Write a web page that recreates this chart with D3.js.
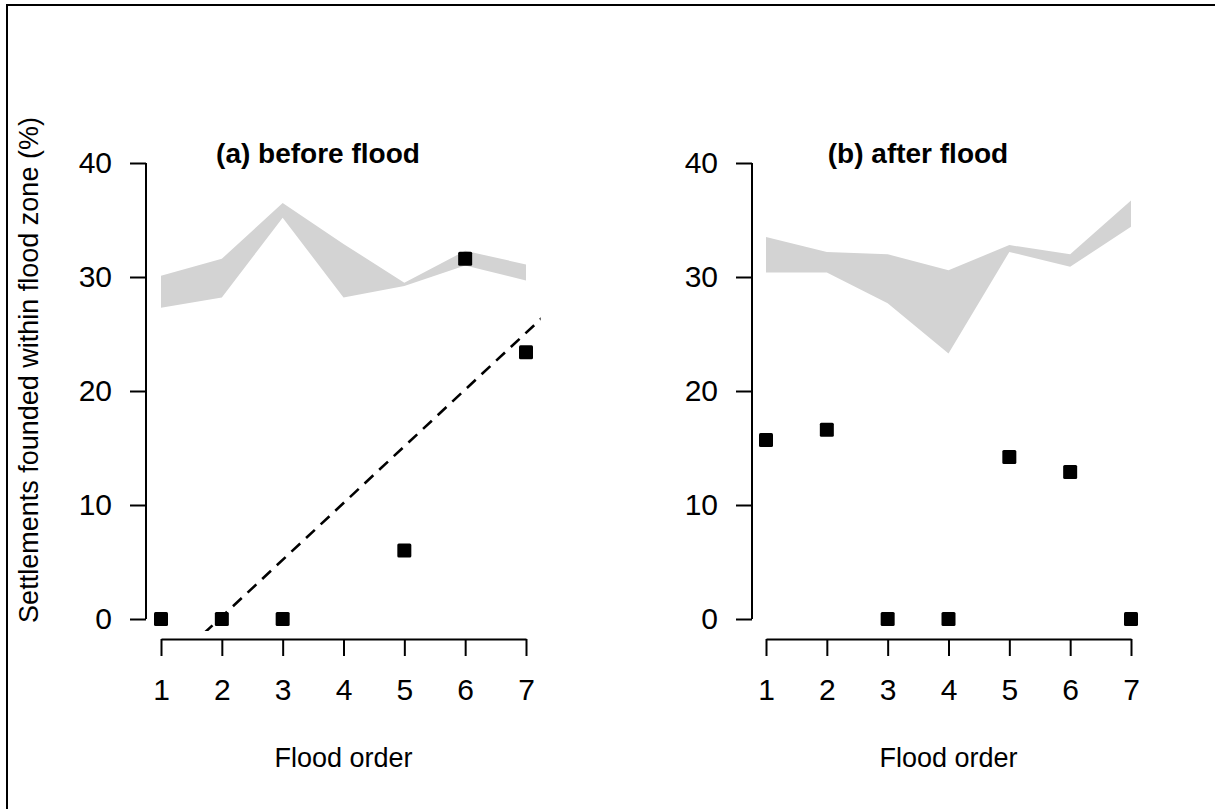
<!DOCTYPE html>
<html>
<head>
<meta charset="utf-8">
<script src="https://cdn.jsdelivr.net/npm/d3@7"></script>
<style>
  html, body { margin: 0; padding: 0; background: #fff; }
  svg { display: block; font-family: "Liberation Sans", Arial, sans-serif; }
</style>
</head>
<body>
<svg id="chart" width="1215" height="809"></svg>
<script>
// Flood order (x) and share of settlements founded within the flood zone (%)
const floodOrder = [1, 2, 3, 4, 5, 6, 7];
const yTicks = [0, 10, 20, 30, 40];

// (a) before flood: observed values (flood 4 has no observation)
const beforeX = [1, 2, 3, 5, 6, 7];
const beforeY = [0, 0, 0, 6.0, 31.6, 23.4];
// (a) null-model envelope
const beforeUpper = [30.1, 31.6, 36.5, 32.9, 29.5, 32.3, 31.1];
const beforeLower = [27.3, 28.2, 35.2, 28.2, 29.2, 31.0, 29.7];

// (b) after flood: observed values
const afterX = [1, 2, 3, 4, 5, 6, 7];
const afterY = [15.7, 16.6, 0, 0, 14.2, 12.9, 0];
// (b) null-model envelope
const afterUpper = [33.5, 32.2, 32.0, 30.6, 32.8, 32.0, 36.7];
const afterLower = [30.4, 30.4, 27.7, 23.3, 32.2, 30.9, 34.4];

const panelTitles = ["(a) before flood", "(b) after flood"];
const xTitle = "Flood order";
const yTitle = "Settlements founded within flood zone (%)";

const svg = d3.select("#chart");
const LABEL_FONT = 27;
const TICK_FONT = 30;

// Figure frame (top and left edges)
svg.append("path")
  .attr("d", "M7,809V5H1215")
  .attr("fill", "none").attr("stroke", "#000").attr("stroke-width", 2);

const y = d3.scaleLinear().domain([0, 40]).range([619, 163]);

// least-squares fit
function linearFit(xs, ys) {
  const mx = d3.mean(xs), my = d3.mean(ys);
  let sxy = 0, sxx = 0;
  xs.forEach((v, i) => { sxy += (v - mx) * (ys[i] - my); sxx += (v - mx) ** 2; });
  const b = sxy / sxx;
  return { slope: b, intercept: my - b * mx };
}

const panels = [
  { x0: 161, x1: 526, yAxisX: 146, title: panelTitles[0], titleX: 318,
    px: beforeX, py: beforeY, up: beforeUpper, lo: beforeLower, fit: true },
  { x0: 766, x1: 1131, yAxisX: 752, title: panelTitles[1], titleX: 918,
    px: afterX, py: afterY, up: afterUpper, lo: afterLower, fit: false }
];

panels.forEach((p, idx) => {
  const x = d3.scaleLinear().domain([1, 7]).range([p.x0, p.x1]);
  const g = svg.append("g");

  // envelope band
  const area = d3.area()
    .x((d, i) => x(floodOrder[i]))
    .y0((d, i) => y(p.lo[i]))
    .y1(d => y(d));
  g.append("path").datum(p.up)
    .attr("d", area)
    .attr("fill", "#d3d3d3").attr("stroke", "none");

  // regression line, clipped to the plotting region
  if (p.fit) {
    const f = linearFit(p.px, p.py);
    const clipId = "clip" + idx;
    svg.append("clipPath").attr("id", clipId)
      .append("rect")
      .attr("x", x(0.76)).attr("y", y(41.6))
      .attr("width", x(7.24) - x(0.76))
      .attr("height", y(-1.05) - y(41.6));
    const xs = [0.5, 7.5];
    g.append("line")
      .attr("clip-path", `url(#${clipId})`)
      .attr("x1", x(xs[0])).attr("y1", y(f.intercept + f.slope * xs[0]))
      .attr("x2", x(xs[1])).attr("y2", y(f.intercept + f.slope * xs[1]))
      .attr("stroke", "#000").attr("stroke-width", 2.6)
      .attr("stroke-dasharray", "12,8");
  }

  // observed points
  const s = 14;
  g.selectAll("rect.pt").data(p.px.map((v, i) => [v, p.py[i]]))
    .enter().append("rect").attr("class", "pt")
    .attr("x", d => x(d[0]) - s / 2)
    .attr("y", d => y(d[1]) - s / 2)
    .attr("width", s).attr("height", s)
    .attr("rx", 1.5)
    .attr("fill", "#000");

  // y axis
  const ya = svg.append("g")
    .attr("transform", `translate(${p.yAxisX},0)`)
    .call(d3.axisLeft(y).tickValues(yTicks).tickSize(16).tickSizeOuter(0).tickPadding(18));
  ya.select(".domain").attr("d", `M0,${y(0)}V${y(40)}`);

  // x axis
  const xa = svg.append("g")
    .attr("transform", "translate(0,639)")
    .call(d3.axisBottom(x).tickValues(floodOrder).tickFormat(d3.format("d"))
      .tickSize(17).tickSizeOuter(0).tickPadding(23));

  [ya, xa].forEach(a => {
    a.selectAll(".domain, line").attr("stroke", "#000").attr("stroke-width", 2);
    a.selectAll("text").attr("font-size", TICK_FONT)
      .attr("font-family", "Liberation Sans, Arial, sans-serif").attr("fill", "#000");
  });

  // panel title
  svg.append("text")
    .attr("x", p.titleX).attr("y", 163)
    .attr("text-anchor", "middle")
    .attr("font-size", 28).attr("font-weight", "bold")
    .text(p.title);

  // x-axis title
  svg.append("text")
    .attr("x", (p.x0 + p.x1) / 2).attr("y", 767)
    .attr("text-anchor", "middle")
    .attr("font-size", LABEL_FONT)
    .text(xTitle);
});

// shared y-axis title
svg.append("text")
  .attr("transform", "translate(38,370) rotate(-90)")
  .attr("text-anchor", "middle")
  .attr("font-size", LABEL_FONT)
  .text(yTitle);
</script>
</body>
</html>
